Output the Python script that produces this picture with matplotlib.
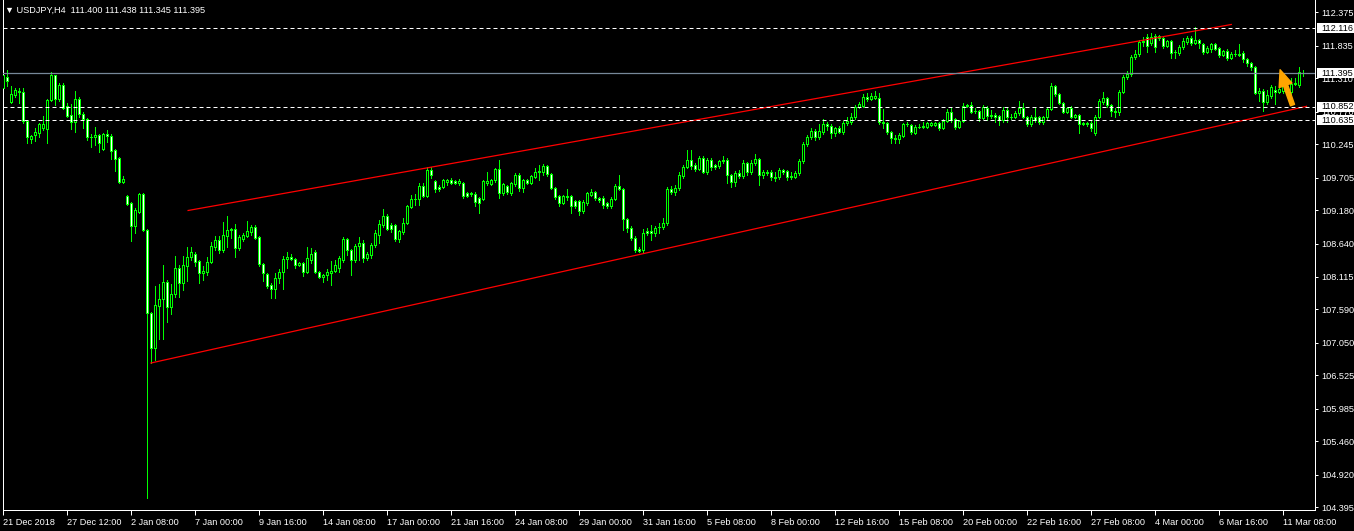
import numpy as np
import matplotlib
matplotlib.use("Agg")
import matplotlib.pyplot as plt
from matplotlib.patches import Rectangle, FancyArrowPatch
from matplotlib.transforms import blended_transform_factory

plt.rcParams['font.family'] = ['Liberation Sans', 'DejaVu Sans']

symbol_info = "USDJPY,H4  111.400 111.438 111.345 111.395"

# H4 candles
opens = [
    111.16, 111.33, 110.93, 111.04, 111.09, 111.09, 110.62, 110.33, 110.40, 110.43,
    110.51, 110.49, 110.96, 111.37, 110.98, 111.20, 110.87, 110.72, 110.61, 110.98,
    110.74, 110.66, 110.37, 110.37, 110.40, 110.17, 110.41, 110.38, 110.16, 110.03,
    109.64, 109.41, 109.30, 108.93, 109.16, 109.45, 108.87, 107.53, 106.96, 107.64,
    107.75, 108.03, 107.62, 107.83, 108.25, 108.01, 108.28, 108.43, 108.48, 108.37,
    108.17, 108.19, 108.35, 108.59, 108.70, 108.54, 108.77, 108.88, 108.88, 108.58,
    108.72, 108.77, 108.83, 108.91, 108.75, 108.32, 108.16, 107.98, 107.91, 108.09,
    108.19, 108.40, 108.43, 108.40, 108.30, 108.33, 108.19, 108.38, 108.51, 108.19,
    108.11, 108.14, 108.17, 108.20, 108.25, 108.38, 108.72, 108.54, 108.38, 108.61,
    108.66, 108.41, 108.46, 108.62, 108.78, 108.95, 109.09, 108.95, 108.95, 108.72,
    108.83, 108.98, 109.24, 109.37, 109.37, 109.58, 109.41, 109.83, 109.66, 109.56,
    109.56, 109.64, 109.67, 109.66, 109.62, 109.62, 109.46, 109.46, 109.45, 109.38,
    109.37, 109.62, 109.61, 109.67, 109.85, 109.46, 109.58, 109.46, 109.61, 109.75,
    109.54, 109.67, 109.62, 109.72, 109.80, 109.80, 109.90, 109.77, 109.54, 109.41,
    109.30, 109.41, 109.41, 109.33, 109.33, 109.17, 109.30, 109.43, 109.48, 109.38,
    109.38, 109.30, 109.25, 109.37, 109.58, 109.53, 109.04, 108.90, 108.74, 108.56,
    108.54, 108.85, 108.85, 108.82, 108.91, 108.91, 108.98, 109.53, 109.48, 109.54,
    109.74, 109.88, 109.99, 109.91, 109.85, 110.03, 109.80, 109.99, 109.91, 109.90,
    109.98, 109.99, 109.75, 109.64, 109.78, 109.74, 109.95, 109.80, 109.95, 110.01,
    109.75, 109.80, 109.80, 109.72, 109.72, 109.83, 109.82, 109.74, 109.72, 109.78,
    109.98, 110.25, 110.37, 110.46, 110.37, 110.45, 110.58, 110.54, 110.43, 110.51,
    110.45, 110.59, 110.61, 110.69, 110.85, 110.87, 111.01, 110.98, 110.99, 110.99,
    110.61, 110.59, 110.45, 110.35, 110.33, 110.38, 110.58, 110.56, 110.43, 110.53,
    110.53, 110.53, 110.56, 110.56, 110.59, 110.51, 110.62, 110.77, 110.66, 110.53,
    110.62, 110.87, 110.88, 110.78, 110.78, 110.67, 110.83, 110.72, 110.72, 110.70,
    110.64, 110.80, 110.69, 110.69, 110.75, 110.83, 110.69, 110.58, 110.69, 110.69,
    110.61, 110.69, 110.82, 111.19, 111.06, 110.91, 110.77, 110.83, 110.69, 110.72,
    110.58, 110.59, 110.59, 110.43, 110.69, 110.93, 110.99, 110.88, 110.78, 110.77,
    111.09, 111.33, 111.38, 111.66, 111.70, 111.90, 111.98, 111.88, 111.99, 111.99,
    111.96, 111.83, 111.91, 111.74, 111.72, 111.82, 111.90, 111.96, 111.88, 111.93,
    111.87, 111.74, 111.78, 111.87, 111.80, 111.69, 111.75, 111.64, 111.70, 111.70,
    111.72, 111.62, 111.56, 111.49, 111.08, 111.11, 110.93, 111.03, 111.12, 111.09,
    111.11, 111.16, 111.09, 111.22, 111.20, 111.400,
]
highs = [
    111.41, 111.45, 111.19, 111.16, 111.16, 111.16, 110.62, 110.40, 110.51, 110.59,
    110.70, 110.98, 111.41, 111.37, 111.24, 111.24, 110.91, 110.90, 111.11, 111.01,
    110.77, 110.67, 110.41, 110.53, 110.41, 110.43, 110.48, 110.41, 110.17, 110.04,
    109.74, 109.43, 109.32, 109.22, 109.46, 109.46, 108.88, 107.54, 107.96, 107.99,
    108.30, 108.06, 107.99, 108.45, 108.30, 108.45, 108.59, 108.59, 108.51, 108.38,
    108.28, 108.43, 108.67, 108.77, 108.77, 108.99, 109.09, 108.90, 108.96, 108.78,
    108.82, 109.01, 108.95, 108.95, 108.77, 108.33, 108.17, 108.01, 108.17, 108.24,
    108.45, 108.51, 108.48, 108.41, 108.35, 108.35, 108.59, 108.58, 108.54, 108.20,
    108.16, 108.24, 108.37, 108.38, 108.45, 108.75, 108.74, 108.56, 108.64, 108.75,
    108.70, 108.51, 108.66, 108.87, 109.03, 109.20, 109.12, 108.98, 108.96, 108.87,
    109.06, 109.27, 109.43, 109.45, 109.62, 109.62, 109.88, 109.88, 109.67, 109.59,
    109.69, 109.69, 109.70, 109.67, 109.69, 109.64, 109.48, 109.48, 109.48, 109.40,
    109.67, 109.80, 109.69, 109.87, 109.99, 109.62, 109.59, 109.64, 109.78, 109.78,
    109.69, 109.69, 109.75, 109.87, 109.91, 109.93, 109.91, 109.78, 109.56, 109.43,
    109.43, 109.53, 109.43, 109.35, 109.35, 109.35, 109.48, 109.53, 109.49, 109.40,
    109.41, 109.32, 109.40, 109.61, 109.75, 109.54, 109.06, 108.93, 108.77, 108.59,
    108.88, 108.90, 108.95, 108.93, 108.98, 109.06, 109.56, 109.58, 109.59, 109.80,
    109.91, 110.16, 110.16, 109.95, 110.06, 110.06, 110.03, 110.03, 109.93, 109.99,
    110.06, 110.03, 109.77, 109.82, 109.83, 109.99, 109.96, 109.99, 110.09, 110.03,
    109.83, 109.83, 109.83, 109.80, 109.87, 109.85, 109.83, 109.80, 109.82, 110.01,
    110.29, 110.40, 110.51, 110.49, 110.58, 110.66, 110.61, 110.58, 110.53, 110.54,
    110.62, 110.69, 110.75, 110.88, 110.93, 111.06, 111.08, 111.08, 111.11, 111.08,
    110.82, 110.61, 110.46, 110.40, 110.43, 110.59, 110.61, 110.58, 110.56, 110.58,
    110.61, 110.61, 110.61, 110.61, 110.61, 110.66, 110.82, 110.83, 110.67, 110.64,
    110.91, 110.90, 110.93, 110.83, 110.80, 110.88, 110.87, 110.80, 110.75, 110.72,
    110.85, 110.83, 110.74, 110.78, 110.95, 110.91, 110.70, 110.72, 110.83, 110.70,
    110.70, 110.85, 111.24, 111.20, 111.08, 110.93, 110.85, 110.87, 110.74, 110.74,
    110.61, 110.61, 110.64, 110.72, 110.98, 111.09, 111.01, 110.90, 110.83, 111.12,
    111.37, 111.43, 111.69, 111.77, 111.93, 111.98, 112.03, 112.04, 112.03, 112.01,
    111.99, 111.93, 111.93, 111.77, 111.85, 111.96, 111.99, 111.99, 112.14, 111.95,
    111.88, 111.83, 111.88, 111.88, 111.82, 111.77, 111.78, 111.74, 111.77, 111.87,
    111.75, 111.64, 111.58, 111.51, 111.16, 111.14, 111.12, 111.20, 111.19, 111.20,
    111.24, 111.25, 111.32, 111.32, 111.49, 111.438,
]
lows = [
    110.91, 111.19, 110.91, 111.01, 110.91, 110.59, 110.27, 110.27, 110.30, 110.37,
    110.48, 110.27, 110.95, 110.88, 110.95, 110.82, 110.69, 110.49, 110.45, 110.69,
    110.51, 110.32, 110.20, 110.24, 110.12, 110.16, 110.29, 110.01, 109.82, 109.62,
    109.62, 109.27, 108.69, 108.82, 109.14, 108.85, 104.54, 106.72, 106.77, 107.11,
    107.11, 107.38, 107.51, 107.78, 107.78, 107.90, 108.04, 108.38, 108.28, 108.01,
    108.06, 108.14, 108.33, 108.54, 108.49, 108.51, 108.59, 108.74, 108.43, 108.54,
    108.69, 108.76, 108.78, 108.72, 108.28, 108.04, 107.93, 107.77, 107.77, 108.01,
    107.91, 108.25, 108.38, 108.25, 108.28, 108.12, 108.17, 108.33, 108.17, 108.09,
    108.03, 108.06, 107.98, 108.19, 108.19, 108.35, 108.46, 108.14, 108.35, 108.38,
    108.35, 108.38, 108.41, 108.59, 108.66, 108.91, 108.87, 108.83, 108.69, 108.67,
    108.80, 108.96, 109.22, 109.27, 109.27, 109.40, 109.40, 109.70, 109.48, 109.49,
    109.54, 109.59, 109.61, 109.61, 109.59, 109.38, 109.40, 109.41, 109.25, 109.14,
    109.35, 109.59, 109.59, 109.64, 109.38, 109.43, 109.45, 109.43, 109.58, 109.49,
    109.48, 109.61, 109.61, 109.70, 109.67, 109.75, 109.74, 109.53, 109.37, 109.25,
    109.29, 109.35, 109.14, 109.22, 109.11, 109.14, 109.27, 109.41, 109.35, 109.32,
    109.22, 109.22, 109.22, 109.35, 109.51, 108.87, 108.83, 108.70, 108.51, 108.51,
    108.51, 108.78, 108.70, 108.77, 108.82, 108.88, 108.95, 109.45, 109.43, 109.51,
    109.70, 109.87, 109.85, 109.82, 109.83, 109.78, 109.77, 109.83, 109.85, 109.87,
    109.95, 109.62, 109.56, 109.58, 109.70, 109.70, 109.75, 109.77, 109.91, 109.59,
    109.70, 109.75, 109.67, 109.66, 109.69, 109.77, 109.67, 109.69, 109.70, 109.75,
    109.95, 110.22, 110.33, 110.32, 110.33, 110.41, 110.48, 110.35, 110.38, 110.43,
    110.41, 110.56, 110.58, 110.66, 110.83, 110.85, 110.95, 110.96, 110.98, 110.58,
    110.51, 110.41, 110.27, 110.27, 110.27, 110.37, 110.54, 110.41, 110.41, 110.51,
    110.51, 110.51, 110.54, 110.54, 110.48, 110.49, 110.61, 110.61, 110.49, 110.51,
    110.61, 110.85, 110.75, 110.75, 110.62, 110.66, 110.64, 110.67, 110.61, 110.56,
    110.61, 110.61, 110.66, 110.67, 110.72, 110.67, 110.54, 110.54, 110.61, 110.58,
    110.58, 110.66, 110.80, 111.03, 110.90, 110.75, 110.75, 110.67, 110.67, 110.43,
    110.56, 110.54, 110.46, 110.40, 110.67, 110.90, 110.85, 110.70, 110.69, 110.72,
    111.08, 111.30, 111.35, 111.62, 111.67, 111.83, 111.74, 111.85, 111.74, 111.93,
    111.80, 111.82, 111.64, 111.64, 111.69, 111.78, 111.87, 111.85, 111.87, 111.80,
    111.70, 111.72, 111.74, 111.77, 111.66, 111.67, 111.61, 111.62, 111.67, 111.67,
    111.58, 111.51, 111.45, 111.06, 110.95, 110.78, 110.90, 110.99, 110.90, 111.08,
    111.08, 111.09, 111.06, 111.20, 111.17, 111.345,
]
closes = [
    111.37, 111.27, 111.06, 111.12, 111.11, 110.62, 110.37, 110.38, 110.45, 110.58,
    110.58, 110.96, 111.37, 110.98, 111.20, 110.83, 110.70, 110.61, 110.98, 110.74,
    110.66, 110.37, 110.36, 110.40, 110.27, 110.41, 110.38, 110.14, 110.01, 109.64,
    109.69, 109.29, 108.93, 109.19, 109.45, 108.87, 107.53, 106.96, 107.66, 107.75,
    108.03, 107.62, 107.83, 108.25, 108.01, 108.30, 108.43, 108.51, 108.35, 108.17,
    108.20, 108.35, 108.61, 108.70, 108.54, 108.78, 108.87, 108.87, 108.58, 108.75,
    108.78, 108.85, 108.91, 108.74, 108.32, 108.17, 107.96, 107.91, 108.09, 108.19,
    108.40, 108.43, 108.40, 108.30, 108.33, 108.19, 108.41, 108.48, 108.19, 108.11,
    108.14, 108.19, 108.20, 108.30, 108.41, 108.72, 108.54, 108.38, 108.61, 108.66,
    108.41, 108.48, 108.62, 108.82, 108.96, 109.09, 108.88, 108.88, 108.72, 108.85,
    108.98, 109.25, 109.37, 109.36, 109.58, 109.41, 109.83, 109.75, 109.53, 109.53,
    109.67, 109.67, 109.62, 109.62, 109.66, 109.41, 109.41, 109.45, 109.32, 109.30,
    109.66, 109.66, 109.67, 109.85, 109.46, 109.61, 109.48, 109.62, 109.75, 109.54,
    109.67, 109.62, 109.74, 109.80, 109.81, 109.90, 109.77, 109.54, 109.40, 109.30,
    109.41, 109.40, 109.25, 109.25, 109.17, 109.32, 109.46, 109.48, 109.38, 109.35,
    109.27, 109.25, 109.37, 109.58, 109.53, 109.04, 108.90, 108.74, 108.54, 108.53,
    108.82, 108.82, 108.82, 108.90, 108.92, 108.98, 109.53, 109.48, 109.54, 109.75,
    109.88, 109.99, 109.90, 109.85, 110.03, 109.80, 109.99, 109.88, 109.88, 109.98,
    109.99, 109.75, 109.64, 109.78, 109.74, 109.95, 109.80, 109.95, 110.01, 109.75,
    109.80, 109.78, 109.72, 109.71, 109.83, 109.80, 109.72, 109.72, 109.78, 109.98,
    110.25, 110.37, 110.46, 110.37, 110.46, 110.58, 110.54, 110.43, 110.51, 110.45,
    110.59, 110.62, 110.69, 110.85, 110.90, 111.01, 110.98, 111.03, 111.03, 110.61,
    110.59, 110.45, 110.35, 110.34, 110.40, 110.58, 110.57, 110.45, 110.53, 110.52,
    110.54, 110.59, 110.59, 110.59, 110.51, 110.62, 110.77, 110.64, 110.53, 110.62,
    110.87, 110.88, 110.77, 110.79, 110.67, 110.85, 110.70, 110.71, 110.69, 110.64,
    110.80, 110.69, 110.68, 110.75, 110.83, 110.69, 110.58, 110.69, 110.64, 110.61,
    110.69, 110.82, 111.19, 111.06, 110.91, 110.77, 110.83, 110.69, 110.72, 110.58,
    110.59, 110.58, 110.51, 110.69, 110.95, 110.99, 110.88, 110.78, 110.77, 111.09,
    111.33, 111.38, 111.66, 111.70, 111.90, 111.91, 111.83, 111.98, 111.82, 111.96,
    111.83, 111.91, 111.72, 111.73, 111.82, 111.91, 111.96, 111.88, 111.93, 111.88,
    111.74, 111.80, 111.87, 111.78, 111.69, 111.75, 111.64, 111.70, 111.71, 111.69,
    111.62, 111.56, 111.49, 111.08, 111.11, 110.93, 111.04, 111.17, 111.09, 111.14,
    111.20, 111.19, 111.22, 111.24, 111.41, 111.395,
]

date_ticks = list(range(0, 321, 16))
date_labels = ["21 Dec 2018", "27 Dec 12:00", "2 Jan 08:00", "7 Jan 00:00", "9 Jan 16:00",
               "14 Jan 08:00", "17 Jan 00:00", "21 Jan 16:00", "24 Jan 08:00", "29 Jan 00:00",
               "31 Jan 16:00", "5 Feb 08:00", "8 Feb 00:00", "12 Feb 16:00", "15 Feb 08:00",
               "20 Feb 00:00", "22 Feb 16:00", "27 Feb 08:00", "4 Mar 00:00", "6 Mar 16:00",
               "11 Mar 08:00"]
price_ticks = [112.375, 111.835, 111.310, 110.770, 110.245, 109.705, 109.180, 108.640,
               108.115, 107.590, 107.050, 106.525, 105.985, 105.460, 104.920, 104.395]

levels = [112.116, 110.852, 110.635]
bid = 111.395

# trend channel anchors (bar index, price)
upper_bars, upper_prices = [46.2, 307.0], [109.18, 112.18]
lower_bars, lower_prices = [36.9, 325.8], [106.72, 110.86]
arrow_start = (322.3, 110.88)
arrow_end = (319.2, 111.45)

W, H = 1354, 531
fig = plt.figure(figsize=(W / 100, H / 100), dpi=100, facecolor='black')
ax = fig.add_axes([2.5 / W, (H - 510) / H, (1315.3 - 2.5) / W, 510 / H], facecolor='black')
ax.set_xlim(-0.2, 328.0)
ax.set_ylim(104.349, 112.575)
px = (112.575 - 104.349) / 510

o = np.array(opens)
h = np.array(highs)
l = np.array(lows)
c = np.array(closes)
x = np.arange(len(c))
bull = c >= o

ax.vlines(x, l, h, colors='#00ff00', linewidth=0.72, antialiased=False, zorder=2)
ax.bar(x, np.abs(c - o), bottom=np.minimum(o, c), width=0.5,
       color=np.where(bull, 'black', 'white'), edgecolor='#00ff00',
       linewidth=0.72, antialiased=False, zorder=3)

ax.plot(upper_bars, upper_prices, color='red', lw=0.9, zorder=4)
ax.plot(lower_bars, lower_prices, color='red', lw=0.9, zorder=4)
for v in levels:
    ax.axhline(v, color='white', lw=0.72, linestyle=(0, (4, 3)), zorder=4)
ax.axhline(bid, color='#778899', lw=0.9, zorder=4)

arr = FancyArrowPatch(arrow_start, arrow_end,
                      arrowstyle='simple,head_width=0.7,head_length=0.85,tail_width=0.22',
                      mutation_scale=14, color='#ffa500', shrinkA=0, shrinkB=0, zorder=5)
ax.add_patch(arr)

for s in ['left', 'right', 'bottom']:
    ax.spines[s].set_color('white')
    ax.spines[s].set_linewidth(0.72)
ax.spines['top'].set_visible(False)

ax.yaxis.tick_right()
ax.set_yticks(price_ticks)
ax.set_yticklabels([f'{v:.3f}' for v in price_ticks])
ax.tick_params(axis='y', colors='white', length=2.2, width=0.72, labelsize=6.6, pad=2)
ax.set_xticks(date_ticks)
ax.set_xticklabels(date_labels, ha='left')
ax.tick_params(axis='x', colors='white', length=3.6, width=0.72, labelsize=6.6, pad=2.5)

tr = blended_transform_factory(fig.transFigure, ax.transData)
for v in levels + [bid]:
    fig.add_artist(Rectangle((1316.5 / W, v - 5 * px), (W - 1316.5) / W, 10 * px,
                             transform=tr, facecolor='white', edgecolor='none', zorder=10))
    fig.text(1321 / W, v, f'{v:.3f}', transform=tr, color='black', fontsize=6.6,
             va='center', ha='left', zorder=11)

fig.text(5 / W, 1 - 10 / H, '\u25bc ' + symbol_info, color='white', fontsize=6.6,
         va='center', ha='left')

fig.savefig('out.png', dpi=100, facecolor='black')
